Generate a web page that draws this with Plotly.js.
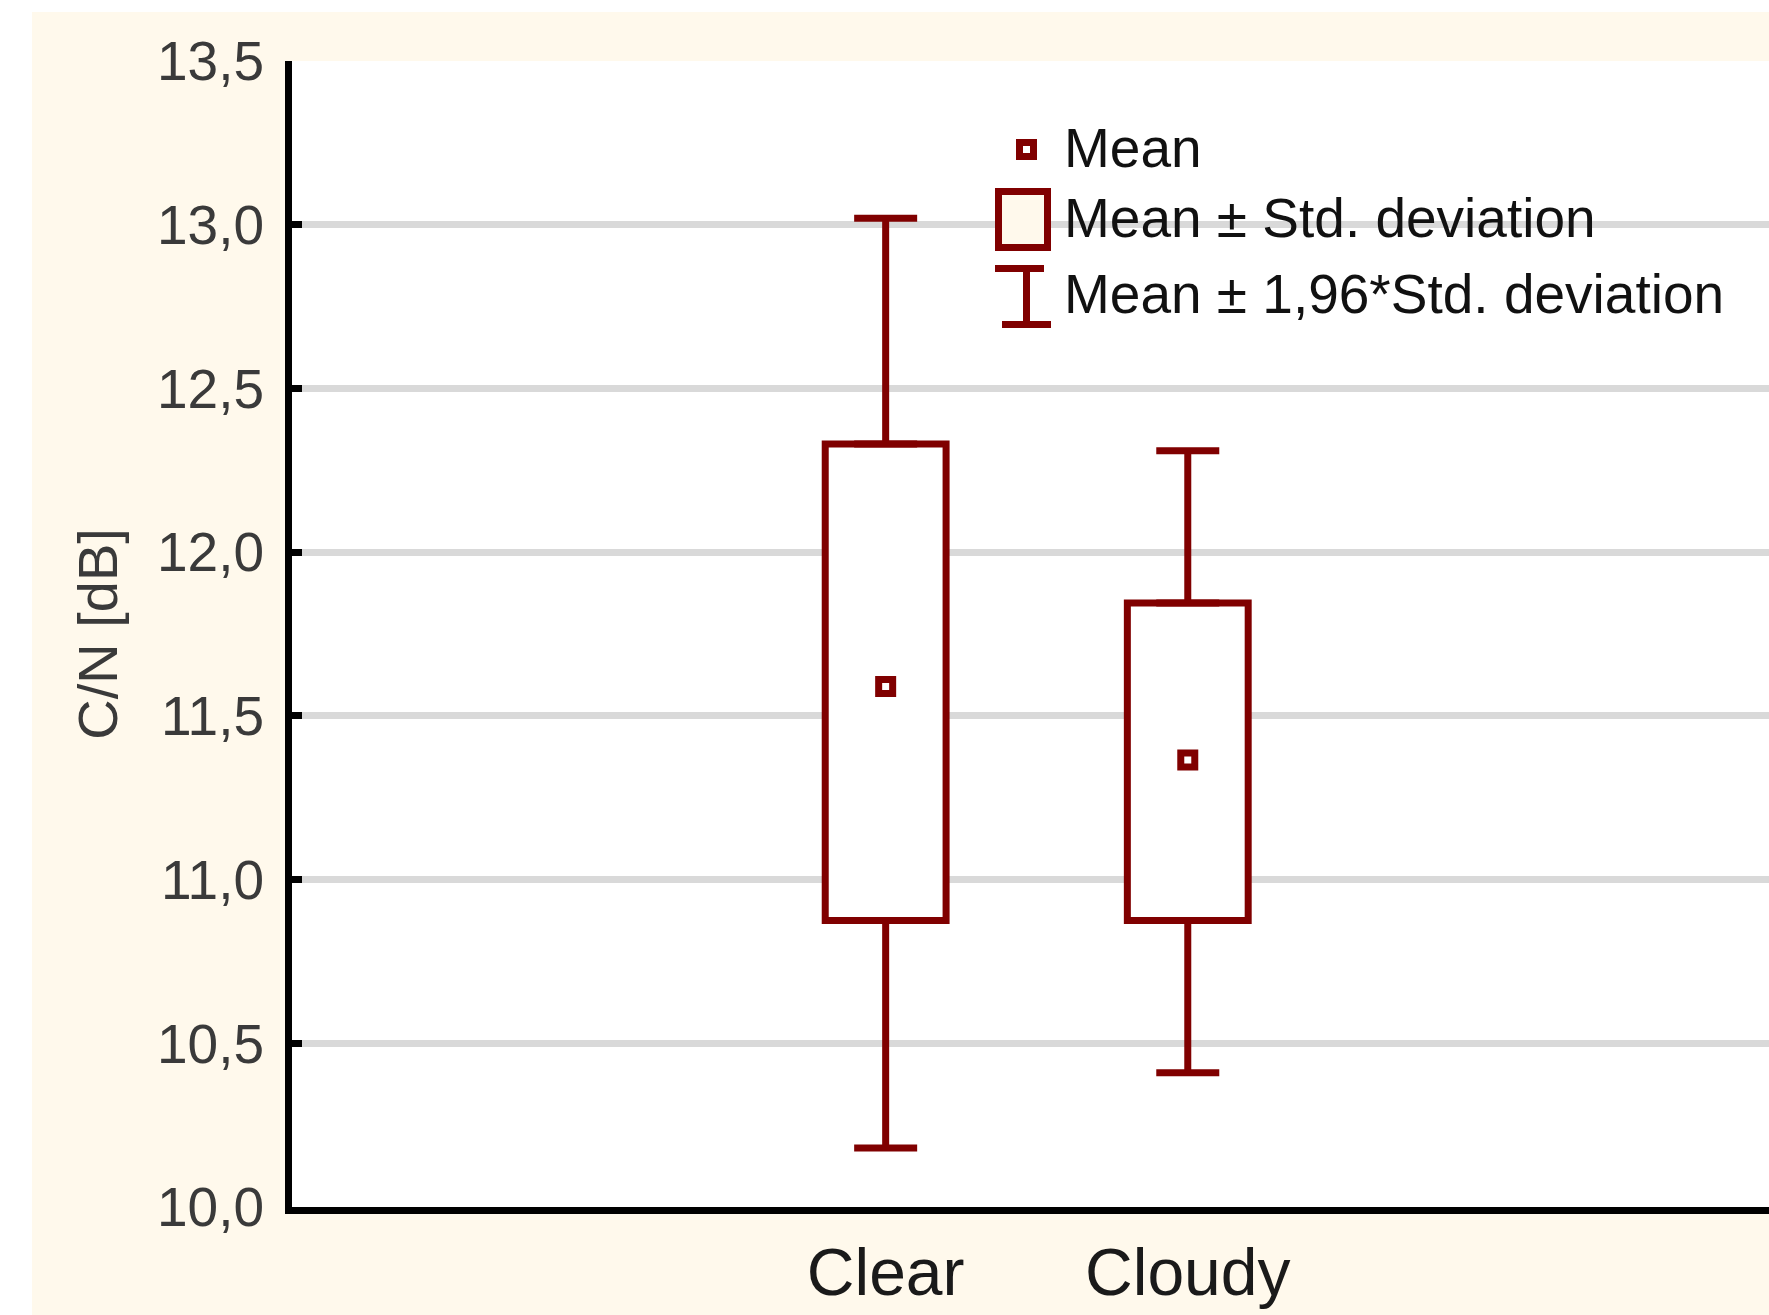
<!DOCTYPE html>
<html>
<head>
<meta charset="utf-8">
<script src="https://cdn.plot.ly/plotly-3.0.1.min.js"></script>
<style>
  html, body { margin: 0; padding: 0; background: #ffffff; overflow: hidden; width: 1769px; height: 1315px; }
  #chart { position: absolute; left: 32px; top: 12px; width: 1760px; height: 1303px; }
</style>
</head>
<body>
<div id="chart"></div>
<script>
// ---- data ----
const categories   = ['Clear', 'Cloudy'];
const meanValues   = [11.59, 11.365];
const sdLower      = [10.875, 10.875];   // Mean - Std. deviation
const sdUpper      = [12.33, 11.845];    // Mean + Std. deviation
const ciLower      = [10.18, 10.41];     // Mean - 1,96*Std. deviation
const ciUpper      = [13.02, 12.31];     // Mean + 1,96*Std. deviation
const legendLabels = ['Mean', 'Mean ± Std. deviation', 'Mean ± 1,96*Std. deviation'];
const yAxisTitle   = 'C/N [dB]';
const yRange       = [10, 13.5];
const yStep        = 0.5;

// ---- styles ----
const RED = '#800000';
const CREAM = '#fff9ec';
const LW = 7;

const boxHeights = sdUpper.map((v, i) => v - sdLower[i]);
const upperWhisk = ciUpper.map((v, i) => v - sdUpper[i]);
const lowerWhisk = sdLower.map((v, i) => v - ciLower[i]);
const zeros = categories.map(() => 0);

const traces = [
  {
    type: 'bar', x: categories, y: boxHeights, base: sdLower, width: 0.40,
    marker: { color: '#ffffff', line: { color: RED, width: LW } },
    showlegend: false, hoverinfo: 'skip'
  },
  {
    type: 'scatter', mode: 'markers', x: categories, y: sdUpper,
    marker: { size: 1, color: 'rgba(0,0,0,0)' },
    error_y: { type: 'data', symmetric: false, array: upperWhisk, arrayminus: zeros,
               color: RED, thickness: LW, width: 31.5 },
    showlegend: false, hoverinfo: 'skip'
  },
  {
    type: 'scatter', mode: 'markers', x: categories, y: sdLower,
    marker: { size: 1, color: 'rgba(0,0,0,0)' },
    error_y: { type: 'data', symmetric: false, array: zeros, arrayminus: lowerWhisk,
               color: RED, thickness: LW, width: 31.5 },
    showlegend: false, hoverinfo: 'skip'
  },
  {
    type: 'scatter', mode: 'markers', x: categories, y: meanValues,
    marker: { symbol: 'square', size: 14, color: '#ffffff', line: { color: RED, width: LW } },
    showlegend: false, hoverinfo: 'skip'
  }
];

// plot area in page pixels: left 292, width 1500, top 61, height 1146
const PX = (X) => (X - 292) / 1500;
const PY = (Y) => (1207 - Y) / 1146;

const legendFont = { family: 'Liberation Sans, Arial, sans-serif', size: 55, color: '#111111' };
const legendBaselines = [167, 237, 313];
const annotations = legendLabels.map((t, i) => ({
  xref: 'paper', yref: 'paper', x: PX(1062), y: PY(legendBaselines[i] - 0.346 * legendFont.size),
  xanchor: 'left', yanchor: 'middle', text: t, showarrow: false, font: legendFont
}));

const shapes = [
  // legend: mean symbol
  { type: 'rect', xref: 'paper', yref: 'paper', x0: PX(1019.5), x1: PX(1033.5), y0: PY(156.5), y1: PY(142.5),
    fillcolor: '#ffffff', line: { color: RED, width: LW } },
  // legend: box symbol
  { type: 'rect', xref: 'paper', yref: 'paper', x0: PX(998.5), x1: PX(1047.5), y0: PY(247.5), y1: PY(191.5),
    fillcolor: CREAM, line: { color: RED, width: LW } },
  // legend: whisker symbol
  { type: 'rect', xref: 'paper', yref: 'paper', x0: PX(995), x1: PX(1044), y0: PY(272), y1: PY(265),
    fillcolor: RED, line: { width: 0 } },
  { type: 'rect', xref: 'paper', yref: 'paper', x0: PX(1023), x1: PX(1030), y0: PY(321), y1: PY(272),
    fillcolor: RED, line: { width: 0 } },
  { type: 'rect', xref: 'paper', yref: 'paper', x0: PX(1002), x1: PX(1051), y0: PY(328), y1: PY(321),
    fillcolor: RED, line: { width: 0 } }
];

const xr = [-1.965, 3.0];
const layout = {
  width: 1760, height: 1303,
  margin: { l: 260, r: 0, t: 49, b: 108, pad: 0 },
  paper_bgcolor: CREAM, plot_bgcolor: '#ffffff',
  separators: ',.',
  showlegend: false,
  bargap: 0,
  xaxis: {
    type: 'category', categoryorder: 'array', categoryarray: categories,
    range: xr, autorange: false, fixedrange: true,
    showline: true, linewidth: LW, linecolor: '#000000',
    ticks: '', showgrid: false, zeroline: false,
    tickfont: { family: 'Liberation Sans, Arial, sans-serif', size: 66, color: '#1a1a1a' },
    ticklabelstandoff: 2, automargin: false
  },
  xaxis2: {
    overlaying: 'x', side: 'bottom', anchor: 'y', type: 'linear', range: xr, autorange: false,
    tickmode: 'array', tickvals: [1], showticklabels: false,
    ticks: 'inside', ticklen: 10, tickwidth: LW, tickcolor: '#000000',
    showline: false, showgrid: false, zeroline: false, automargin: false
  },
  xaxis3: {
    overlaying: 'x', side: 'top', anchor: 'y', type: 'linear', range: xr, autorange: false,
    tickmode: 'array', tickvals: [-1, 0, 1, 2], showticklabels: false,
    ticks: 'inside', ticklen: 10, tickwidth: LW, tickcolor: '#000000',
    showline: true, linewidth: LW, linecolor: '#000000',
    showgrid: false, zeroline: false, automargin: false
  },
  yaxis: {
    range: yRange, autorange: false, fixedrange: true,
    tick0: yRange[0], dtick: yStep, tickformat: '.1f',
    showgrid: true, gridcolor: '#d9d9d9', gridwidth: LW,
    showline: true, linewidth: LW, linecolor: '#000000',
    ticks: 'inside', ticklen: 10, tickwidth: LW, tickcolor: '#000000',
    zeroline: false,
    tickfont: { family: 'Liberation Sans, Arial, sans-serif', size: 55, color: '#3a3a3a' },
    ticklabelstandoff: 10,
    title: { text: yAxisTitle, standoff: 24,
             font: { family: 'Liberation Sans, Arial, sans-serif', size: 56, color: '#3a3a3a' } },
    automargin: false
  },
  annotations: annotations,
  shapes: shapes
};

Plotly.newPlot('chart', traces, layout, { staticPlot: true, displayModeBar: false });
</script>
</body>
</html>
